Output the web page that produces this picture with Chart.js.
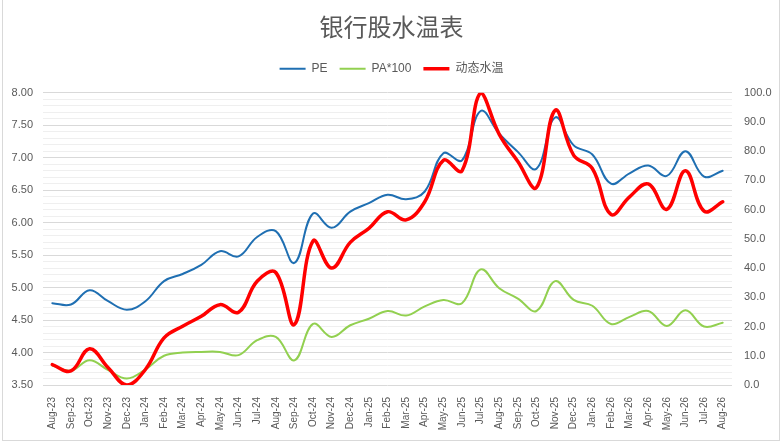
<!DOCTYPE html>
<html>
<head>
<meta charset="utf-8">
<script src="https://cdn.jsdelivr.net/npm/chart.js@4"></script>
<style>
  html, body { margin: 0; padding: 0; background: #fff; }
  #wrap { position: relative; width: 783px; height: 443px; }
  #frame { position: absolute; left: 2px; top: -1px; width: 776px; height: 440px; border: 1px solid #d9d9d9; pointer-events: none; }
</style>
</head>
<body>
<div id="wrap">
  <canvas id="chart" width="783" height="443"></canvas>
  <div id="frame"></div>
</div>
<script>
// maanden op de x-as
const months = ['Aug-23','Sep-23','Oct-23','Nov-23','Dec-23','Jan-24','Feb-24','Mar-24','Apr-24','May-24','Jun-24','Jul-24',
  'Aug-24','Sep-24','Oct-24','Nov-24','Dec-24','Jan-25','Feb-25','Mar-25','Apr-25','May-25','Jun-25','Jul-25',
  'Aug-25','Sep-25','Oct-25','Nov-25','Dec-25','Jan-26','Feb-26','Mar-26','Apr-26','May-26','Jun-26','Jul-26','Aug-26'];

// PE (linker as)
const peValues = [4.76, 4.74, 4.96, 4.79, 4.66, 4.79, 5.10, 5.21, 5.35, 5.56, 5.48, 5.78,
  5.87, 5.38, 6.14, 5.92, 6.17, 6.30, 6.43, 6.36, 6.48, 7.07, 6.96, 7.72,
  7.37, 7.09, 6.83, 7.62, 7.19, 7.05, 6.60, 6.76, 6.88, 6.72, 7.10, 6.71, 6.80];

// PA*100 (linker as)
const paValues = [3.80, 3.72, 3.88, 3.73, 3.60, 3.74, 3.95, 4.00, 4.01, 4.01, 3.96, 4.19,
  4.24, 3.88, 4.44, 4.24, 4.42, 4.52, 4.64, 4.57, 4.71, 4.81, 4.76, 5.28,
  4.99, 4.83, 4.64, 5.10, 4.81, 4.72, 4.44, 4.55, 4.64, 4.41, 4.65, 4.40, 4.46];

// 动态水温 (rechter as, 0-100)
const waterTemp = [7.0, 4.8, 12.4, 5.9, 0.0, 5.3, 16.1, 20.1, 23.5, 27.5, 24.9, 35.5,
  38.5, 20.7, 49.3, 40.0, 48.8, 53.6, 59.3, 56.5, 62.7, 76.9, 73.3, 100.0,
  85.8, 76.5, 67.6, 94.0, 78.6, 74.1, 58.4, 64.4, 68.8, 60.1, 73.3, 59.5, 62.7];

// as-instellingen
const leftMin = 3.5, leftMax = 8.0;
const rightMin = 0, rightMax = 100;

const fontFamily = '"Liberation Sans", "Noto Sans CJK SC", sans-serif';
const textColor = '#595959';

// extra ruimte onder de legenda
const legendMargin = {
    id: 'legendMargin',
    beforeInit(chart) {
        const fitValue = chart.legend.fit;
        chart.legend.fit = function fit() {
            fitValue.bind(chart.legend)();
            this.height += 8;
        };
    }
};

const ctx = document.querySelector('#chart');

new Chart(ctx, {
    type: 'line',
    plugins: [legendMargin],
    data: {
        labels: months,
        datasets: [{
            label: 'PE',
            data: peValues,
            borderColor: '#1f6fb2',
            backgroundColor: '#1f6fb2',
            borderWidth: 2,
            yAxisID: 'y',
            order: 3
        },
        {
            label: 'PA*100',
            data: paValues,
            borderColor: '#92d050',
            backgroundColor: '#92d050',
            borderWidth: 2,
            yAxisID: 'y',
            order: 2
        },
        {
            label: '动态水温',
            data: waterTemp,
            borderColor: '#ff0000',
            backgroundColor: '#ff0000',
            borderWidth: 3.5,
            yAxisID: 'y1',
            order: 1
        }]
    },
    options: {
        responsive: false,
        animation: false,
        devicePixelRatio: 1,
        layout: { padding: { left: 0, right: 0, top: 0, bottom: 0 } },
        elements: {
            point: { radius: 0, hoverRadius: 0 },
            line: { tension: 0.4, borderCapStyle: 'round', borderJoinStyle: 'round' }
        },
        plugins: {
            title: {
                display: true,
                text: '银行股水温表',
                color: textColor,
                font: { family: '"Noto Sans CJK SC", sans-serif', size: 24, weight: 'normal' },
                padding: { top: 12, bottom: 10 }
            },
            legend: {
                display: true,
                reverse: true,
                labels: {
                    color: textColor,
                    font: { family: fontFamily, size: 12 },
                    usePointStyle: true,
                    pointStyle: 'line',
                    pointStyleWidth: 26,
                    boxHeight: 8,
                    padding: 12
                }
            },
            tooltip: { enabled: false }
        },
        scales: {
            x: {
                offset: true,
                grid: { display: false },
                border: { display: false },
                ticks: {
                    color: textColor,
                    font: { family: fontFamily, size: 10 },
                    minRotation: 90,
                    maxRotation: 90,
                    autoSkip: false,
                    padding: 4
                },
                afterFit: function (scale) { scale.height = 58; }
            },
            y: {
                position: 'left',
                min: leftMin,
                max: leftMax,
                border: { display: false },
                grid: {
                    drawTicks: false,
                    color: function (c) {
                        const v = Math.round(c.tick.value * 10);
                        return v % 5 === 0 ? '#d9d9d9' : '#efefef';
                    },
                    lineWidth: 1
                },
                ticks: {
                    stepSize: 0.1,
                    autoSkip: false,
                    color: textColor,
                    font: { family: fontFamily, size: 11 },
                    padding: 10,
                    callback: function (value) {
                        const v = Math.round(value * 10);
                        return v % 5 === 0 ? (v / 10).toFixed(2) : '';
                    }
                },
                afterFit: function (scale) { scale.width = 43; }
            },
            y1: {
                position: 'right',
                min: rightMin,
                max: rightMax,
                border: { display: false },
                grid: { drawOnChartArea: false, drawTicks: false },
                ticks: {
                    stepSize: 10,
                    color: textColor,
                    font: { family: fontFamily, size: 11 },
                    padding: 12,
                    callback: function (value) { return value.toFixed(1); }
                },
                afterFit: function (scale) { scale.width = 51; }
            }
        }
    }
});
</script>
</body>
</html>
